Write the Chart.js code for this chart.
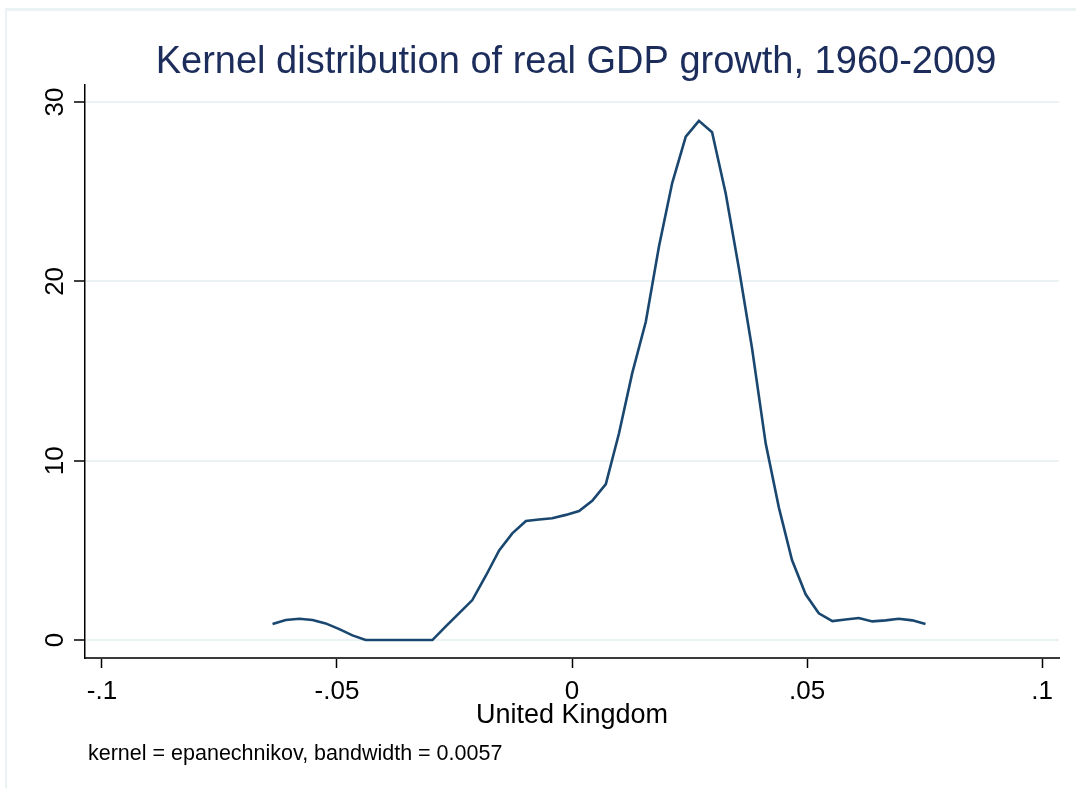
<!DOCTYPE html>
<html><head><meta charset="utf-8">
<script src="https://cdn.jsdelivr.net/npm/chart.js@4"></script>
<style>html,body{margin:0;padding:0;background:#fff}#wrap{width:1076px;height:788px}</style>
</head><body><div id="wrap"><canvas id="c" width="1076" height="788"></canvas></div>
<script>
const titleText = 'Kernel distribution of real GDP growth, 1960-2009';
const xAxisTitle = 'United Kingdom';
const noteText = 'kernel = epanechnikov, bandwidth = 0.0057';

const growth = [-0.0637,-0.0609,-0.0580,-0.0552,-0.0524,-0.0495,-0.0467,-0.0439,-0.0410,-0.0382,
  -0.0354,-0.0325,-0.0297,-0.0269,-0.0240,-0.0212,-0.0183,-0.0155,-0.0127,-0.0098,
  -0.0070,-0.0042,-0.0013,0.0015,0.0043,0.0072,0.0100,0.0128,0.0157,0.0185,
  0.0213,0.0242,0.0270,0.0298,0.0327,0.0355,0.0383,0.0412,0.0440,0.0468,
  0.0497,0.0525,0.0554,0.0582,0.0610,0.0639,0.0667,0.0695,0.0724,0.0752];
const density = [0.89,1.12,1.19,1.12,0.93,0.61,0.26,0,0,0,
  0,0,0,0.75,1.5,2.23,3.6,5.0,5.95,6.64,
  6.72,6.79,6.98,7.19,7.77,8.7,11.53,14.87,17.75,21.94,
  25.47,28.07,28.95,28.32,24.9,20.73,16.27,10.97,7.4,4.46,
  2.55,1.49,1.06,1.15,1.23,1.04,1.10,1.19,1.10,0.89];

const xTickValues = [-0.1,-0.05,0,0.05,0.1];
const xTickLabels = ['-.1','-.05','0','.05','.1'];
const yTickValues = [0,10,20,30];
const yTickLabels = ['0','10','20','30'];

const FONT = '"Liberation Sans", Arial, Helvetica, sans-serif';

const deco = {
  id: 'deco',
  beforeDraw(chart) {
    const ctx = chart.ctx;
    ctx.save();
    ctx.fillStyle = '#ffffff';
    ctx.fillRect(0, 0, chart.width, chart.height);
    ctx.fillStyle = '#eaf2f3';
    ctx.fillRect(5, 8, chart.width - 5, 3);
    ctx.fillRect(5, 8, 2, chart.height - 8);
    ctx.restore();
  },
  afterDraw(chart) {
    const ctx = chart.ctx, xs = chart.scales.x, ys = chart.scales.y, area = chart.chartArea;
    ctx.save();
    ctx.textBaseline = 'alphabetic';
    ctx.textAlign = 'center';
    ctx.fillStyle = '#1c2d5c';
    ctx.font = '38px ' + FONT;
    ctx.fillText(titleText, 576, 73);

    ctx.fillStyle = '#000000';
    ctx.font = '26px ' + FONT;
    xTickValues.forEach((v, i) => ctx.fillText(xTickLabels[i], xs.getPixelForValue(v), 699));
    yTickValues.forEach((v, i) => {
      ctx.save();
      ctx.translate(63, ys.getPixelForValue(v));
      ctx.rotate(-Math.PI / 2);
      ctx.fillText(yTickLabels[i], 0, 0);
      ctx.restore();
    });
    ctx.font = '27px ' + FONT;
    ctx.fillText(xAxisTitle, (area.left + area.right) / 2, 723);
    ctx.textAlign = 'left';
    ctx.font = '21.5px ' + FONT;
    ctx.fillText(noteText, 88, 760);
    ctx.restore();
  }
};

new Chart(document.getElementById('c'), {
  type: 'line',
  data: {
    datasets: [{
      data: growth.map((g, i) => ({x: g, y: density[i]})),
      borderColor: '#1a476f',
      borderWidth: 2.6,
      pointRadius: 0,
      tension: 0,
      fill: false
    }]
  },
  options: {
    responsive: false,
    animation: false,
    events: [],
    layout: {padding: {top: 85, right: 17, left: 0, bottom: 0}},
    plugins: {legend: {display: false}, tooltip: {enabled: false}, title: {display: false}},
    scales: {
      x: {
        type: 'linear',
        min: -0.1036, max: 0.1036,
        afterBuildTicks: s => { s.ticks = xTickValues.map(v => ({value: v})); },
        afterFit: s => { s.height = 130; },
        ticks: {display: false},
        grid: {drawOnChartArea: false, drawTicks: true, tickLength: 10, tickColor: '#000', tickWidth: 1.5},
        border: {display: true, color: '#3a3a3a', width: 2}
      },
      y: {
        type: 'linear',
        min: -1.0, max: 30.95,
        afterBuildTicks: s => { s.ticks = yTickValues.map(v => ({value: v})); },
        afterFit: s => { s.width = 85; },
        ticks: {display: false},
        grid: {color: '#eaf2f3', lineWidth: 2, drawOnChartArea: true, drawTicks: true, tickLength: 11, tickColor: '#000', tickWidth: 1.5},
        border: {display: true, color: '#000', width: 1.5}
      }
    }
  },
  plugins: [deco]
});
</script>
</body></html>
